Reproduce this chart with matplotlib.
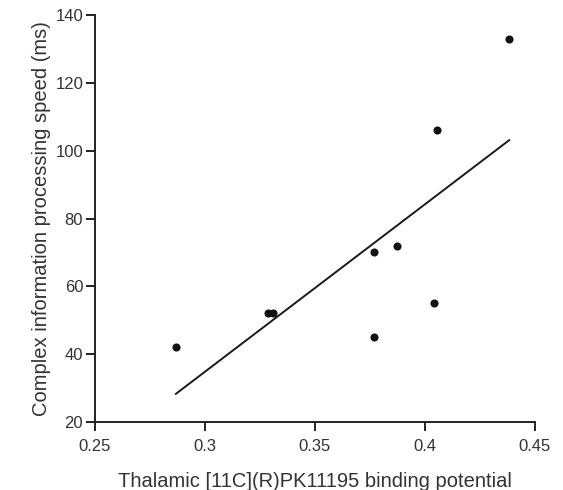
import numpy as np
import matplotlib
matplotlib.use("Agg")
import matplotlib.pyplot as plt

plt.rcParams['font.family'] = ['Liberation Sans', 'DejaVu Sans']

binding_potential = [0.2868, 0.3286, 0.3309, 0.377, 0.377, 0.3874, 0.404, 0.4057, 0.4384]
processing_speed = [42, 52, 52, 70, 45, 72, 55, 106, 133]
x_ticks = [0.25, 0.3, 0.35, 0.4, 0.45]
x_tick_labels = ["0.25", "0.3", "0.35", "0.4", "0.45"]
y_ticks = [20, 40, 60, 80, 100, 120, 140]

fig = plt.figure(figsize=(5.63, 4.90), dpi=100)
ax = fig.add_axes([0.1687, 0.139, 0.781, 0.830])

x = np.array(binding_potential)
y = np.array(processing_speed)
slope, intercept = np.polyfit(x, y, 1)
xl = np.array([x.min(), x.max()])
ax.plot(xl, slope * xl + intercept, color='#1a1a1a', lw=1.4)
ax.scatter(x, y, s=34, color='#111111', zorder=3, linewidths=0)

ax.set_xlim(0.25, 0.45)
ax.set_ylim(20, 140)
ax.set_xticks(x_ticks)
ax.set_xticklabels(x_tick_labels)
ax.set_yticks(y_ticks)
for s in ['top', 'right']:
    ax.spines[s].set_visible(False)
for s in ['left', 'bottom']:
    ax.spines[s].set_color('#222222')
    ax.spines[s].set_linewidth(1.4)
ax.tick_params(direction='out', length=6.5, width=1.4, color='#222222',
               labelsize=12, labelcolor='#333333', pad=2)
ax.tick_params(axis='x', pad=6)
ax.set_xlabel("Thalamic [11C](R)PK11195 binding potential", fontsize=14.5,
              color='#333333', labelpad=13)
ax.set_ylabel("Complex information processing speed (ms)", fontsize=14.5,
              color='#333333', labelpad=3)

fig.savefig("out.png", dpi=100)
